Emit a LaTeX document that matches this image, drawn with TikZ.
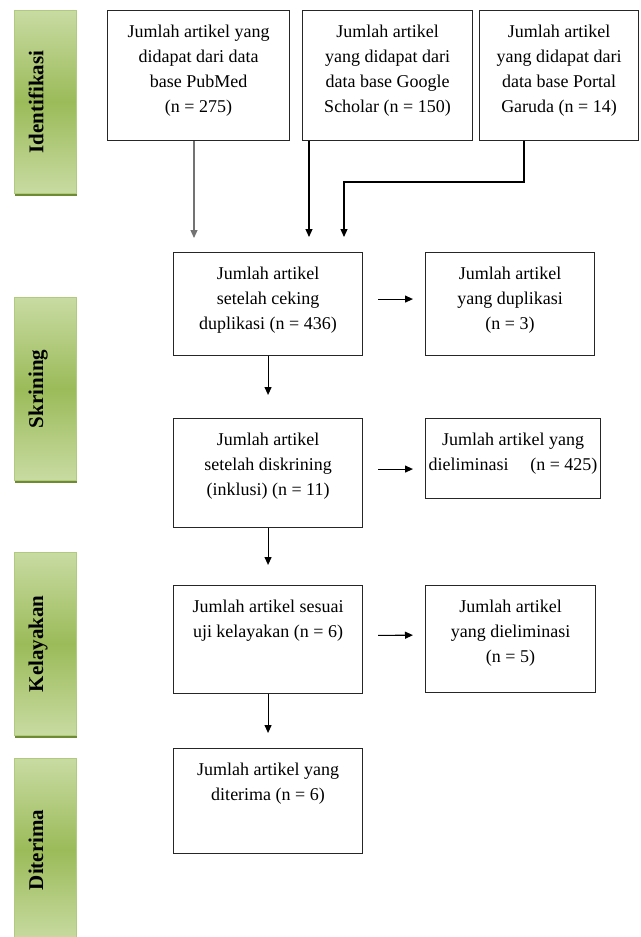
\documentclass[tikz,border=0pt]{standalone}
\usepackage{fontspec}
\setmainfont{Liberation Serif}
\usetikzlibrary{arrows.meta}
\definecolor{grlight}{HTML}{C8DBA2}
\definecolor{grdark}{HTML}{9BBB59}
\definecolor{grline}{HTML}{B0CA7E}
\definecolor{grshade}{HTML}{6E8B34}
\newcommand{\boxtext}[3]{\parbox[t][#2][t]{#1}{\centering\rule{0pt}{27pt}#3}}
\newcommand{\sidetext}[1]{\rotatebox{90}{#1\rule[-19pt]{0pt}{19pt}}}

\begin{document}
\begin{tikzpicture}[x=1pt,y=-1pt]
\tikzstyle{every node}+=[inner sep=0pt]
\tikzstyle{box}=[draw=black!85, line width=1.1pt, anchor=north west, font=\fontsize{18}{25}\selectfont]
\tikzstyle{side}=[draw=grline, line width=0.8pt, anchor=north west, minimum width=62pt, minimum height=183pt,
  top color=grlight, bottom color=grlight, middle color=grdark,
  preaction={fill=grshade, transform canvas={xshift=1pt,yshift=-3pt}},
  font=\fontsize{21}{25}\selectfont\bfseries]
\tikzstyle{arr}=[line width=1.1pt, -{Triangle[length=8pt,width=7pt]}]
\useasboundingbox (0,0) rectangle (640,937);
\clip (0,0) rectangle (640,937);
\node [side] (sid) at (14,10) {\sidetext{Identifikasi}};
\node [side] (ssk) at (14,297) {\sidetext{Skrining}};
\node [side] (skl) at (14,552) {\sidetext{Kelayakan}};
\node [side] (sdt) at (14,758) {\sidetext{Diterima}};
\node [box] (pub) at (107,10) {\boxtext{182pt}{130pt}{Jumlah artikel yang\\didapat dari data\\base PubMed\\(n = 275)}};
\node [box] (gs) at (302,10) {\boxtext{170pt}{130pt}{Jumlah artikel\\yang didapat dari\\data base Google\\Scholar (n = 150)}};
\node [box] (gar) at (479,10) {\boxtext{159pt}{130pt}{Jumlah artikel\\yang didapat dari\\data base Portal\\Garuda (n = 14)}};
\node [box] (cek) at (173,252) {\boxtext{189pt}{103pt}{Jumlah artikel\\setelah ceking\\duplikasi (n = 436)}};
\node [box] (dup) at (425,252) {\boxtext{169pt}{103pt}{Jumlah artikel\\yang duplikasi\\(n = 3)}};
\node [box] (skr) at (173,418) {\boxtext{189pt}{109pt}{Jumlah artikel\\setelah diskrining\\(inklusi) (n = 11)}};
\node [box] (elim) at (425,418) {\boxtext{175pt}{80pt}{Jumlah artikel yang\\dieliminasi\hspace{1.2em}(n = 425)}};
\node [box] (lay) at (173,585) {\boxtext{189pt}{108pt}{Jumlah artikel sesuai\\uji kelayakan (n = 6)}};
\node [box] (elim2) at (425,585) {\boxtext{170pt}{107pt}{Jumlah artikel\\yang dieliminasi\\(n = 5)}};
\node [box] (trm) at (173,748) {\boxtext{189pt}{105pt}{Jumlah artikel yang\\diterima (n = 6)}};
\coordinate (e1) at (194,238);
\coordinate (e2) at (309,237);
\coordinate (k3) at (524,182);
\coordinate (e3) at (344,237);
\draw [arr, black!55] (pub.south -| e1) -- (e1);
\draw [arr] (gs.south -| e2) -- (e2);
\draw [arr] (gar.south -| k3) -- (k3) -- (k3 -| e3) -- (e3);
\draw [arr, shorten <=15pt, shorten >=12pt] ([yshift=5pt]cek.east) -- ([yshift=5pt]dup.west);
\draw [arr, shorten <=15pt, shorten >=12pt] ([yshift=4pt]skr.east) -- ([yshift=4pt]elim.west |- skr.east);
\draw [arr, shorten <=15pt, shorten >=12pt] ([yshift=4pt]lay.east) -- ([yshift=4pt]elim2.west);
\draw [arr, shorten >=23pt] (cek.south) -- (skr.north);
\draw [arr, shorten >=20pt] (skr.south) -- (lay.north);
\draw [arr, shorten >=15pt] (lay.south) -- (trm.north);
\end{tikzpicture}
\end{document}
